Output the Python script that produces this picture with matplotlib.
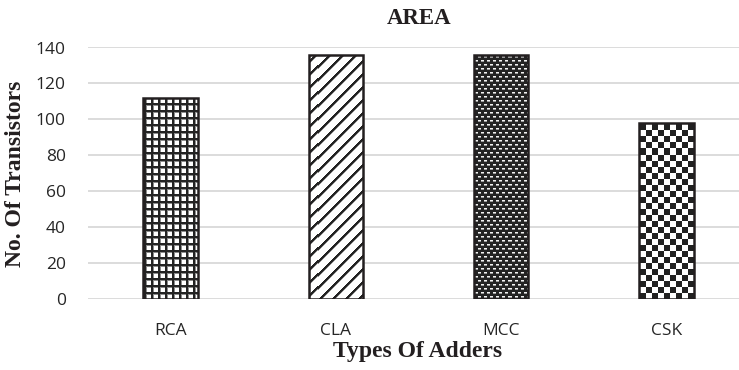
import numpy as np
import matplotlib
matplotlib.use("Agg")
import matplotlib.pyplot as plt

categories = ["RCA", "CLA", "MCC", "CSK"]
values = [112, 136, 136, 98]
yticks = [0, 20, 40, 60, 80, 100, 120, 140]

W, H = 739, 370
fig = plt.figure(figsize=(W / 100, H / 100), dpi=100)
ax = fig.add_axes([88 / W, (H - 299) / H, (W - 88) / W, (299 - 47.5) / H])
ax.set_xlim(-0.5, 3.44)
ax.set_ylim(0, 140)

for s in ax.spines.values():
    s.set_visible(False)
ax.set_yticks(yticks)
ax.grid(axis="y", color="#d9d9d9", linewidth=1.3)
ax.set_axisbelow(True)
ax.tick_params(length=0, labelsize=12.5, colors="#262626")
ax.tick_params(axis="y", pad=16)
ax.tick_params(axis="x", pad=17)
for lab in ax.get_xticklabels() + ax.get_yticklabels():
    lab.set_family("Open Sans")

x = np.arange(len(categories))
edge = "#231f20"
bars = [ax.bar(x[i], values[i], width=0.33, facecolor="none", edgecolor=edge,
               linewidth=1.8, zorder=3) for i in range(len(categories))]
ax.set_xticks(x)
ax.set_xticklabels(categories)

# texture images clipped to bars
pw, ph = W - 88, 252
yy, xx = np.mgrid[0:ph, 0:pw]
# RCA: dense grid
rca = np.ones((ph, pw, 3))
gx = xx % 7
gy = yy % 7
rca[(gx < 2) | (gy < 2)] = 0.14
rca[((gx == 2) | (gy == 2)) & ~((gx < 2) | (gy < 2))] = 0.55
# CLA: diagonal lines
cla = np.ones((ph, pw, 3))
d = (xx + yy) % 13
cla[d < 3] = 0.14
cla[d == 3] = 0.6
# MCC: dark with small white dashes
mcc = np.zeros((ph, pw, 3)) + 0.14
row = yy % 4
shift = ((yy // 4) % 2) * 3
mcc[(row == 1) & (((xx + shift) % 6) < 3)] = 0.95
mcc[(row == 2) & (((xx + shift) % 6) < 3)] = 0.6
# CSK: checkerboard
chk = (((xx // 6) + (yy // 6)) % 2 == 0)
csk = np.zeros((ph, pw, 3)) + 0.13
csk[chk] = 1.0
x0, x1 = ax.get_xlim()
for img, b in zip((rca, cla, mcc, csk), bars):
    im = ax.imshow(img, extent=(x0, x1, 0, 140), origin="upper", aspect="auto",
                   interpolation="nearest", zorder=2.5)
    im.set_clip_path(b.patches[0])
ax.set_xlim(x0, x1)
ax.set_ylim(0, 140)

fig.text(419 / W, 1 - 19 / H, "AREA", ha="center", va="center", family="Liberation Serif",
         fontweight="bold", fontsize=16.5, color="#231f20")
fig.text(418 / W, 1 - 352 / H, "Types Of Adders", ha="center", va="center", family="Liberation Serif",
         fontweight="bold", fontsize=17, color="#231f20")
fig.text(16 / W, 1 - 174 / H, "No. Of Transistors", ha="center", va="center", rotation=90,
         family="Liberation Serif", fontweight="bold", fontsize=17, color="#231f20")

fig.savefig("out.png", dpi=100)
